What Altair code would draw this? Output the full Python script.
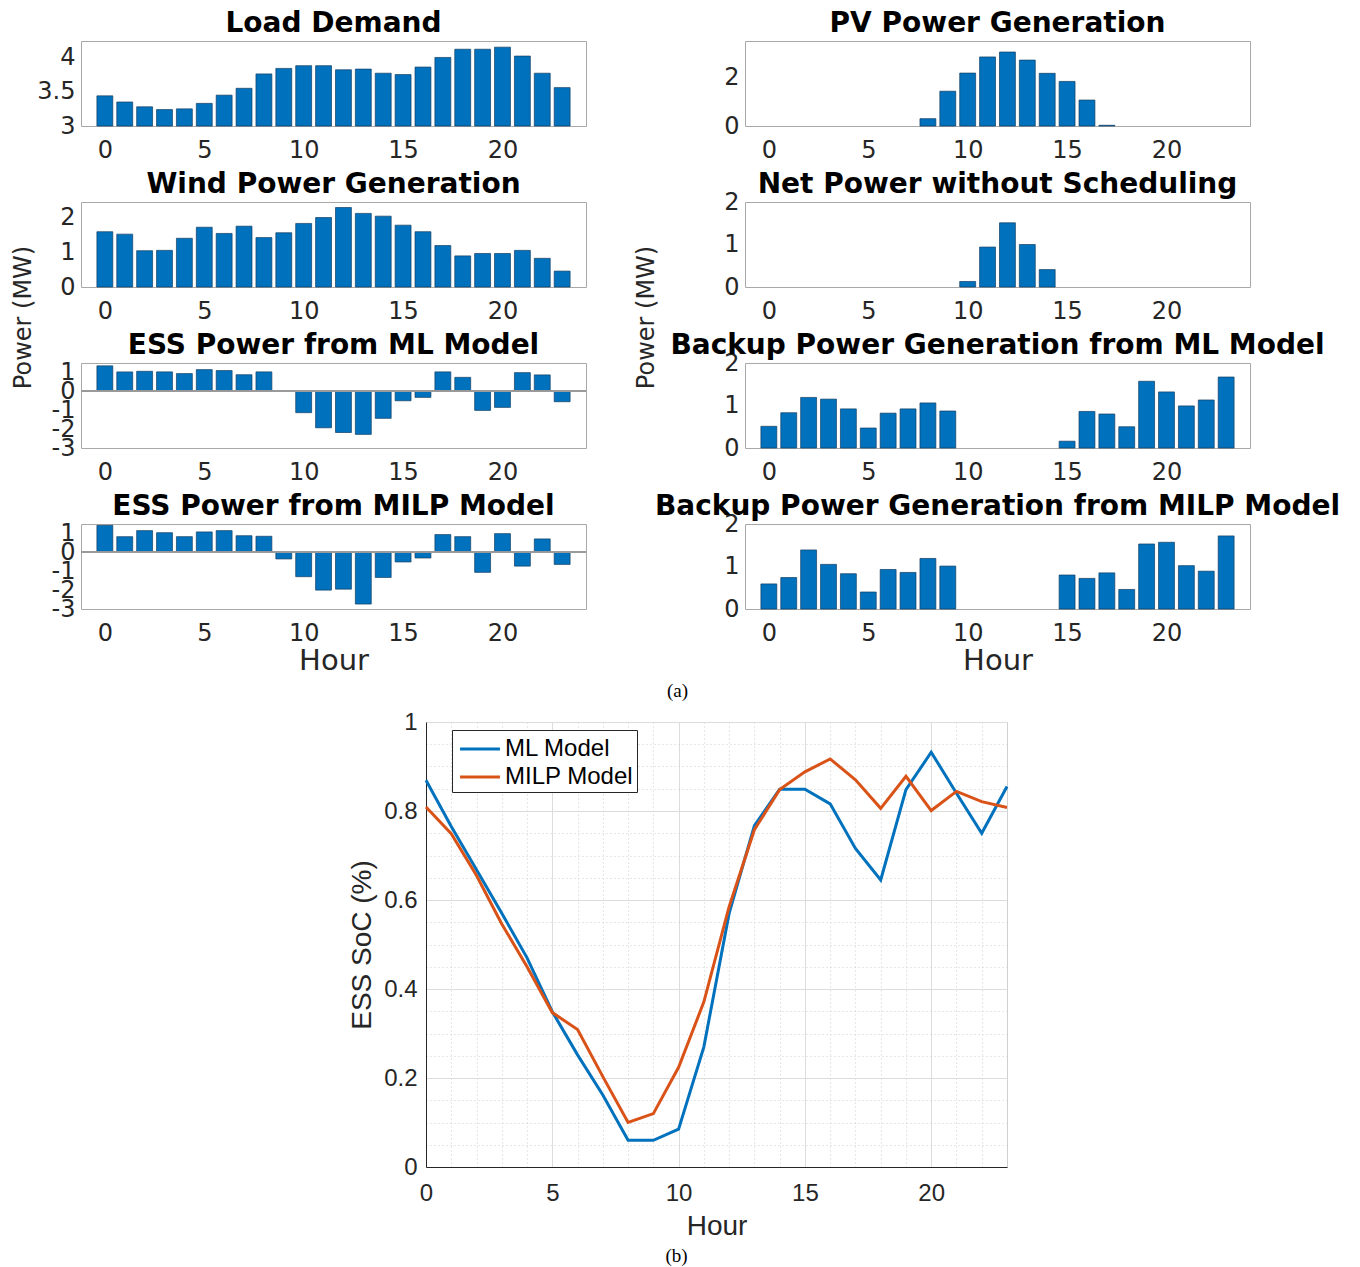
import altair as alt
import pandas as pd

# ---------------- data ----------------
hours = [0, 1, 2, 3, 4, 5, 6, 7, 8, 9, 10, 11, 12, 13, 14, 15, 16, 17, 18, 19, 20, 21, 22, 23]
x_tick_values = [0, 5, 10, 15, 20]

load_demand = [3.44, 3.35, 3.28, 3.24, 3.25, 3.33, 3.45, 3.55, 3.76, 3.84, 3.88, 3.88,
               3.82, 3.83, 3.77, 3.75, 3.86, 4.00, 4.12, 4.12, 4.15, 4.02, 3.77, 3.56]
pv_generation = [0, 0, 0, 0, 0, 0, 0, 0, 0.30, 1.42, 2.16, 2.82,
                 3.02, 2.69, 2.15, 1.82, 1.06, 0.03, 0, 0, 0, 0, 0, 0]
wind_generation = [1.60, 1.53, 1.05, 1.06, 1.41, 1.73, 1.55, 1.76, 1.43, 1.57, 1.84, 2.01,
                   2.30, 2.13, 2.05, 1.79, 1.60, 1.20, 0.90, 0.97, 0.97, 1.06, 0.83, 0.46]
net_power = [0, 0, 0, 0, 0, 0, 0, 0, 0, 0, 0.13, 0.94,
             1.51, 1.00, 0.41, 0, 0, 0, 0, 0, 0, 0, 0, 0]
ess_ml = [1.35, 1.03, 1.06, 1.03, 0.94, 1.15, 1.10, 0.88, 1.03, 0, -1.13, -1.93,
          -2.18, -2.28, -1.43, -0.50, -0.32, 1.03, 0.74, -1.01, -0.85, 0.99, 0.87, -0.55]
ess_milp = [1.43, 0.83, 1.15, 1.04, 0.83, 1.08, 1.15, 0.88, 0.85, -0.35, -1.29, -2.00,
            -1.95, -2.74, -1.33, -0.51, -0.30, 0.94, 0.83, -1.06, 0.99, -0.73, 0.71, -0.64]
backup_ml = [0.51, 0.83, 1.19, 1.15, 0.92, 0.47, 0.82, 0.92, 1.06, 0.87, 0, 0,
             0, 0, 0, 0.16, 0.86, 0.80, 0.50, 1.57, 1.32, 0.99, 1.13, 1.67]
backup_milp = [0.59, 0.74, 1.39, 1.05, 0.83, 0.40, 0.93, 0.86, 1.19, 1.01, 0, 0,
               0, 0, 0, 0.80, 0.72, 0.85, 0.46, 1.53, 1.57, 1.02, 0.89, 1.72]

soc_ml = [0.869, 0.765, 0.668, 0.570, 0.470, 0.349, 0.252, 0.162, 0.060, 0.060, 0.085, 0.270,
          0.570, 0.767, 0.849, 0.849, 0.816, 0.716, 0.645, 0.848, 0.932, 0.840, 0.750, 0.855]
soc_milp = [0.809, 0.749, 0.655, 0.546, 0.450, 0.347, 0.309, 0.203, 0.100, 0.120, 0.224, 0.371,
            0.585, 0.758, 0.848, 0.888, 0.917, 0.870, 0.806, 0.878, 0.801, 0.844, 0.821, 0.808]
series_names = ["ML Model", "MILP Model"]
soc_y_ticks = [0, 0.2, 0.4, 0.6, 0.8, 1]
soc_minor_x = [1, 2, 3, 4, 6, 7, 8, 9, 11, 12, 13, 14, 16, 17, 18, 19, 21, 22, 23]
soc_minor_y = [0.05, 0.1, 0.15, 0.25, 0.3, 0.35, 0.45, 0.5, 0.55, 0.65, 0.7, 0.75, 0.85, 0.9, 0.95]

# ---------------- style ----------------
BLUE = "#0072BD"
ORANGE = "#D95319"
EDGE = "#123d63"
TXT = "#262626"
FONT = "DejaVu Sans"
HFONT = "Liberation Sans"
PW, PH = 505, 85
XDOM = [-1.2, 24.2]
LABEL_EXPR = "(datum.value < 0 ? '-' : '') + format(abs(datum.value), '~g')"


def bar_panel(values, title, ydom, yticks, base=0, xtitle=False, ytitle_x=None, zero_line=False):
    df = pd.DataFrame({"hour": hours, "value": values})
    xkw = dict(values=x_tick_values, grid=False, ticks=False, tickSize=0, domain=False,
               labelFont=FONT, labelFontSize=24, labelColor=TXT, labelBaseline="alphabetic",
               labelPadding=31, labelFlush=False, labelOverlap=False, labelAngle=0)
    if xtitle:
        xkw.update(title="Hour", titleFont=FONT, titleFontSize=29, titleFontWeight="normal",
                   titleColor=TXT, titleBaseline="alphabetic", titleY=60)
    else:
        xkw.update(title=None)
    ykw = dict(values=yticks, grid=False, ticks=False, tickSize=0, domain=False,
               labelFont=FONT, labelFontSize=24, labelColor=TXT, labelPadding=6,
               labelFlush=False, labelOverlap=False, labelExpr=LABEL_EXPR)
    if ytitle_x is not None:
        ykw.update(title="Power (MW)", titleFont=FONT, titleFontSize=24, titleFontWeight="normal",
                   titleColor=TXT, titleAngle=270, titleAlign="center", titleBaseline="alphabetic",
                   titleX=ytitle_x, titleY=115)
    else:
        ykw.update(title=None)
    # the top tick label can stick out above the frame and push the title up; compensate
    top_gap = (ydom[1] - max(yticks)) / (ydom[1] - ydom[0]) * PH
    title_dy = 29 + max(0.0, 12 - top_gap)

    yscale = alt.Scale(domain=ydom, nice=False, zero=False)
    x = alt.X("x0:Q", scale=alt.Scale(domain=XDOM, nice=False, zero=False), axis=alt.Axis(**xkw))
    y = alt.Y("value:Q", scale=yscale, axis=alt.Axis(**ykw))
    bars = (
        alt.Chart(df)
        .transform_filter("datum.value != 0")
        .transform_calculate(x0="datum.hour - 0.4", x1="datum.hour + 0.4")
        .mark_bar(fill=BLUE, stroke=EDGE, strokeWidth=0.7)
        .encode(x=x, x2="x1:Q", y=y, y2=alt.datum(base))
    )
    layers = [bars]
    if zero_line:
        layers.append(
            alt.Chart(df).mark_rule(color="#9a9a9a", strokeWidth=1).encode(
                y=alt.YDatum(0, scale=yscale, axis=alt.Axis(**ykw))
            )
        )
    return alt.layer(*layers).properties(
        width=PW, height=PH,
        view=alt.ViewBackground(stroke="#a8a8a8", strokeWidth=1),
        title=alt.TitleParams(title, font=FONT, fontSize=28, fontWeight="bold", color="black",
                              anchor="middle", frame="group", baseline="alphabetic",
                              offset=10, dy=title_dy),
    )


p_load = bar_panel(load_demand, "Load Demand", [3, 4.24], [3, 3.5, 4], base=3)
p_pv = bar_panel(pv_generation, "PV Power Generation", [0, 3.47], [0, 2])
p_wind = bar_panel(wind_generation, "Wind Power Generation", [0, 2.46], [0, 1, 2], ytitle_x=-51)
p_net = bar_panel(net_power, "Net Power without Scheduling", [0, 2], [0, 1, 2], ytitle_x=-92)
p_essml = bar_panel(ess_ml, "ESS Power from ML Model", [-3, 1.5], [-3, -2, -1, 0, 1], zero_line=True)
p_bml = bar_panel(backup_ml, "Backup Power Generation from ML Model", [0, 2], [0, 1, 2])
p_essmilp = bar_panel(ess_milp, "ESS Power from MILP Model", [-3, 1.5], [-3, -2, -1, 0, 1],
                      zero_line=True, xtitle=True)
p_bmilp = bar_panel(backup_milp, "Backup Power Generation from MILP Model", [0, 2], [0, 1, 2], xtitle=True)

top = alt.concat(
    p_load, p_pv, p_wind, p_net, p_essml, p_bml, p_essmilp, p_bmilp,
    columns=2, spacing={"row": 76, "column": 159}, bounds="flush",
    title=alt.TitleParams("(a)", orient="bottom", anchor="middle", font="Liberation Serif",
                          fontSize=19, fontWeight="normal", color="black",
                          baseline="alphabetic", offset=21, dx=2),
)

# ---------------- SoC line chart ----------------
soc_df = pd.DataFrame({
    "hour": hours + hours,
    "soc": soc_ml + soc_milp,
    "model": [series_names[0]] * len(hours) + [series_names[1]] * len(hours),
})
xs = alt.Scale(domain=[0, 23], nice=False, zero=False)
ys = alt.Scale(domain=[0, 1], nice=False, zero=False)

minor = alt.Chart(soc_df).mark_line(opacity=0).encode(
    x=alt.X("hour:Q", scale=xs, axis=alt.Axis(orient="top", values=soc_minor_x, grid=True,
                                              gridDash=[1, 3], gridColor="#cfcfcf", labels=False,
                                              ticks=False, domain=False, title=None)),
    y=alt.Y("soc:Q", scale=ys, axis=alt.Axis(orient="right", values=soc_minor_y, grid=True,
                                             gridDash=[1, 3], gridColor="#cfcfcf", labels=False,
                                             ticks=False, domain=False, title=None)),
)

lines = alt.Chart(soc_df).mark_line(strokeWidth=3).encode(
    x=alt.X("hour:Q", scale=xs, axis=alt.Axis(
        orient="bottom", values=x_tick_values, grid=True, gridColor="#dcdcdc", ticks=False,
        tickSize=0, domain=True, domainColor=TXT, labelFont=HFONT, labelFontSize=24,
        labelColor=TXT, labelBaseline="alphabetic", labelPadding=33, labelFlush=False,
        labelOverlap=False, title="Hour", titleFont=HFONT, titleFontSize=28,
        titleFontWeight="normal", titleColor=TXT, titleBaseline="alphabetic", titleY=67)),
    y=alt.Y("soc:Q", scale=ys, axis=alt.Axis(
        orient="left", values=soc_y_ticks, grid=True, gridColor="#dcdcdc", ticks=False,
        tickSize=0, domain=True, domainColor=TXT, labelFont=HFONT, labelFontSize=24,
        labelColor=TXT, labelPadding=9, labelFlush=False, labelOverlap=False,
        labelExpr=LABEL_EXPR, title="ESS SoC (%)", titleFont=HFONT, titleFontSize=28,
        titleFontWeight="normal", titleColor=TXT, titleAngle=270, titleAlign="center",
        titleBaseline="alphabetic", titleX=-56, titleY=222.5)),
    color=alt.Color("model:N", scale=alt.Scale(domain=series_names, range=[BLUE, ORANGE]),
                    legend=alt.Legend(title=None, orient="none", legendX=26, legendY=8,
                                      symbolType="M-1.4,0H1.4", symbolSize=812,
                                      symbolStrokeWidth=3, symbolOffset=9,
                                      labelFont=HFONT, labelFontSize=24, labelColor="black",
                                      fillColor="white", strokeColor=TXT, padding=3,
                                      rowPadding=0, labelOffset=9)),
)

soc_chart = alt.layer(minor, lines).resolve_axis(x="independent", y="independent").properties(
    width=581, height=445,
    view=alt.ViewBackground(stroke="#d0d0d0", strokeWidth=1),
)

spacer = alt.Chart(pd.DataFrame({"s": [0]})).mark_point(opacity=0).encode(
    x=alt.value(0), y=alt.value(0)
).properties(width=345, height=445, view=alt.ViewBackground(stroke="transparent"))

bottom = alt.hconcat(spacer, soc_chart, spacing=0, bounds="flush").resolve_scale(
    color="independent").resolve_legend(color="independent")

chart = alt.vconcat(top, bottom, spacing=8).resolve_scale(
    color="independent").resolve_legend(color="independent").properties(
    padding={"left": 2, "top": 1, "right": 5, "bottom": 5},
    background="white",
    title=alt.TitleParams("(b)", orient="bottom", anchor="middle", font="Liberation Serif",
                          fontSize=19, fontWeight="normal", color="black",
                          baseline="alphabetic", offset=21, dx=1),
)

chart.save("out.html", embed_options={"renderer": "svg", "actions": False})
